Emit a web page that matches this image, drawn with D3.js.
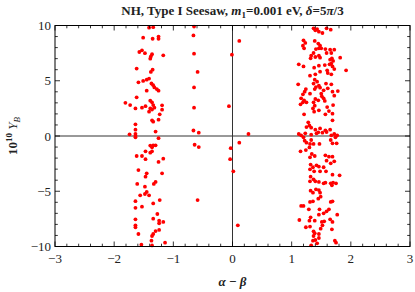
<!DOCTYPE html>
<html><head><meta charset="utf-8">
<script src="https://cdn.jsdelivr.net/npm/d3@7"></script>
<style>
html,body{margin:0;padding:0;background:#fff;}
svg text{font-family:"Liberation Serif","Times New Roman",serif;fill:#222;}
</style></head>
<body><svg id="c" width="415" height="292"></svg>
<script>
// x = alpha - beta, y = 10^10 Y_B
const xTicks = [-3,-2,-1,0,1,2,3];
const yTicks = [-10,-5,0,5,10];
const leftCluster = [
[-1.41,9.8],[-1.34,9.85],[-1.51,8.9],[-1.35,8.8],[-1.25,9.0],[-1.25,8.8],
[-1.575,7.6],[-1.53,7.75],[-1.48,7.5],[-1.36,7.4],[-1.38,7.2],[-1.39,7.0],[-1.17,7.3],
[-1.62,6.1],[-1.35,6.0],[-1.38,5.8],
[-1.59,4.86],[-1.51,4.98],[-1.45,5.1],[-1.41,5.2],[-1.34,4.6],[-1.37,4.75],
[-1.32,4.4],[-1.28,4.25],[-1.25,4.1],[-1.45,4.1],
[-1.62,3.5],[-1.39,3.2],[-1.36,3.05],[-1.81,3.0],[-1.73,2.8],[-1.64,2.5],
[-1.53,2.56],[-1.47,2.7],[-1.39,2.5],[-1.36,2.4],[-1.41,2.2],[-1.34,2.8],[-1.32,2.56],
[-1.19,2.78],[-1.19,2.38],[-1.23,1.96],[-1.25,1.48],[-1.36,1.42],[-1.34,1.3],
[-1.64,1.06],[-1.64,0.57],[-1.74,0.15],[-1.64,0.2],[-1.64,0.03],[-1.30,0.4],[-1.25,-0.2],[-1.64,-0.12],
[-1.39,-0.87],[-1.34,-0.84],[-1.30,-0.84],[-1.36,-1.02],
[-1.47,-1.39],[-1.39,-1.51],[-1.36,-1.39],[-1.62,-1.81],[-1.53,-1.81],[-1.47,-2.1],
[-1.25,-2.35],[-1.17,-2.05],[-1.59,-3.08],[-1.45,-3.38],[-1.47,-3.68],[-1.19,-3.38],
[-1.61,-4.34],[-1.33,-4.34],[-1.30,-4.16],[-1.48,-4.59],
[-1.48,-5.25],[-1.45,-5.07],[-1.56,-5.37],[-1.41,-5.37],[-1.64,-5.9],[-1.64,-6.5],
[-1.53,-6.4],[-1.34,-6.1],[-1.23,-5.8],[-1.27,-7.06],[-1.34,-7.48],[-1.64,-7.54],
[-1.24,-7.67],[-1.17,-7.78],[-1.24,-7.9],[-1.64,-8.08],[-1.64,-8.26],[-1.24,-8.5],
[-1.59,-8.87],[-1.30,-8.6],[-1.34,-8.87],[-1.36,-9.05],[-1.37,-9.47],[-1.14,-9.65],
[-1.54,-9.84],[-1.36,-9.9]
];
const midColumn = [
[-0.65,9.9],[-0.66,9.1],[-0.65,7.45],[-0.59,5.8],[-0.65,4.4],[-0.65,2.56],
[-0.66,0.5],[-0.57,0.3],[-0.64,-0.79],[-0.57,-1.0],[-0.59,-5.8]
];
const centerPoints = [
[-0.01,7.36],[0.115,8.6],[-0.06,2.7],[-0.04,-2.1],[0.115,-0.6],[0.014,-3.2],
[0.09,-8.08],[0.27,0.18],[-0.03,-1.1]
];
const rightCluster = [
[1.37,9.74],[1.40,9.56],[1.46,9.44],[1.52,9.32],[1.59,9.74],[1.66,9.62],[1.43,9.68],
[1.20,8.66],[1.23,8.42],[1.19,8.17],[1.21,7.93],[1.39,8.60],[1.45,8.36],[1.48,8.17],
[1.46,7.93],[1.41,7.87],[1.50,7.93],[1.57,7.87],[1.65,7.81],[1.72,7.81],[1.67,7.51],
[1.59,7.51],[1.37,7.51],[1.33,7.27],[1.32,7.03],[1.40,7.15],[1.46,7.27],[1.48,7.09],
[1.82,7.09],[1.68,7.03],[1.65,6.91],[1.70,6.79],[1.67,6.55],[1.12,6.49],[1.20,6.30],
[1.38,6.18],[1.46,6.36],[1.56,6.42],[1.64,6.49],[1.92,5.94],[1.69,6.30],[1.72,6.06],
[1.60,5.94],[1.61,5.70],[1.67,5.58],[1.31,5.46],[1.40,5.58],[1.48,5.82],[1.39,5.10],
[1.43,4.92],[1.37,4.74],[1.46,4.55],[1.41,4.43],[1.39,4.25],[1.48,4.37],[1.11,4.68],
[1.24,4.25],[1.22,4.01],[1.31,3.83],[1.19,3.77],[1.58,4.74],[1.67,4.68],[1.61,4.31],
[1.54,4.13],[1.69,4.01],[1.78,4.07],[1.72,3.65],[1.16,3.41],[1.21,3.23],[1.25,3.05],
[1.15,2.87],[1.19,3.05],[1.40,3.35],[1.45,3.23],[1.50,3.83],[1.51,3.59],[1.54,3.41],
[1.56,3.17],[1.37,3.05],[1.39,2.74],[1.36,2.50],[1.38,2.20],[1.46,2.32],[1.21,1.96],
[1.60,2.62],[1.70,2.80],[1.63,2.26],[1.69,2.02],[1.57,1.96],[1.28,1.24],[1.30,0.95],
[1.25,0.81],[1.33,0.75],[1.69,1.42],[1.40,0.57],[1.45,0.33],[1.48,0.69],[1.57,0.51],
[1.65,0.57],
[1.12,0.18],[1.16,0.06],[1.20,-0.12],[1.23,0.24],[1.33,0.12],[1.42,0.24],[1.52,0.30],
[1.59,0.36],[1.72,0.18],[1.77,0.06],[1.74,-0.12],[1.67,0.06],[1.22,-0.42],[1.25,-0.60],
[1.31,-0.72],[1.37,-0.72],[1.47,-0.72],[1.30,-1.03],[1.33,-0.36],[1.66,-0.36],[1.69,-0.66],
[1.76,-0.66],[1.15,-1.39],[1.24,-1.27],[1.34,-1.63],[1.39,-1.81],[1.31,-1.93],[1.57,-1.75],
[1.63,-1.87],[1.69,-1.87],[1.59,-2.23],[1.66,-2.47],[1.72,-2.29],[1.32,-2.59],[1.42,-2.65],
[1.46,-2.77],[1.54,-2.83],[1.36,-2.83],[1.31,-3.02],[1.38,-3.20],[1.48,-3.20],[1.58,-3.20],
[1.81,-3.56],[1.69,-3.50],[1.32,-3.68],[1.37,-3.92],[1.31,-4.10],[1.40,-4.10],[1.46,-4.16],
[1.54,-4.28],[1.57,-4.22],[1.66,-4.28],[1.70,-4.22],[1.75,-4.28],[1.68,-4.46],[1.41,-4.83],
[1.36,-5.13],[1.46,-4.89],[1.48,-5.13],[1.49,-5.49],[1.45,-5.67],[1.32,-4.95],[1.31,-5.97],
[1.36,-5.91],[1.16,-6.33],[1.20,-6.33],[1.29,-6.64],[1.47,-6.64],[1.63,-6.64],[1.66,-5.97],
[1.69,-5.91],[1.46,-7.12],[1.54,-7.00],[1.59,-6.82],[1.77,-7.12],[1.32,-7.36],[1.30,-7.66],
[1.39,-7.66],[1.13,-7.60],[1.51,-7.78],[1.55,-7.72],[1.49,-8.39],[1.52,-8.08],[1.65,-7.54],
[1.69,-7.78],[1.24,-8.26],[1.31,-8.20],[1.68,-8.45],[1.37,-8.63],[1.39,-8.81],[1.46,-8.87],
[1.37,-9.05],[1.40,-9.41],[1.36,-9.47],[1.46,-9.23],[1.73,-9.47],[1.75,-9.65],[1.43,-9.71],
[1.33,-9.89]
];

const L=55,R=410,T=25.5,B=246.5;
const x=d3.scaleLinear().domain([-3,3]).range([L,R]);
const y=d3.scaleLinear().domain([-10,10]).range([B,T]);
const svg=d3.select("#c");

// axes through origin
svg.append("line").attr("x1",L).attr("x2",R).attr("y1",y(0)).attr("y2",y(0)).attr("stroke","#333").attr("stroke-width",1);
svg.append("line").attr("x1",x(0)).attr("x2",x(0)).attr("y1",T).attr("y2",B).attr("stroke","#333").attr("stroke-width",1);

// points
const all=[].concat(leftCluster,midColumn,centerPoints,rightCluster);
svg.append("g").selectAll("circle").data(all).join("circle")
  .attr("cx",d=>x(d[0])).attr("cy",d=>y(d[1])).attr("r",1.9).attr("fill","#ff0000");

// frame
svg.append("rect").attr("x",L).attr("y",T).attr("width",R-L).attr("height",B-T)
  .attr("fill","none").attr("stroke","#000").attr("stroke-width",1);

// ticks
const minorX=d3.range(-3,3.0001,0.2).map(v=>+v.toFixed(1));
const minorY=d3.range(-10,10.0001,1);
const tk=svg.append("g").attr("stroke","#000").attr("stroke-width",0.8);
minorX.forEach(v=>{
  const major=Math.abs(v-Math.round(v))<1e-6;
  const len=major?5:2.8;
  tk.append("line").attr("x1",x(v)).attr("x2",x(v)).attr("y1",B).attr("y2",B-len);
  tk.append("line").attr("x1",x(v)).attr("x2",x(v)).attr("y1",T).attr("y2",T+len);
});
minorY.forEach(v=>{
  const major=v%5===0;
  const len=major?5:2.8;
  tk.append("line").attr("y1",y(v)).attr("y2",y(v)).attr("x1",L).attr("x2",L+len);
  tk.append("line").attr("y1",y(v)).attr("y2",y(v)).attr("x1",R).attr("x2",R-len);
});

// tick labels
const fmt=v=>v<0?"\u2212"+Math.abs(v):String(v);
svg.append("g").selectAll("text").data(xTicks).join("text")
  .attr("x",d=>x(d)).attr("y",B+16).attr("text-anchor","middle")
  .attr("font-size",13).text(fmt);
svg.append("g").selectAll("text").data(yTicks).join("text")
  .attr("x",L-4).attr("y",d=>y(d)+4.5).attr("text-anchor","end")
  .attr("font-size",13).text(fmt);

// title
const t=svg.append("text").attr("x",232.5).attr("y",15).attr("text-anchor","middle")
  .attr("font-size",13).attr("font-weight","bold");
t.append("tspan").text("NH, Type I Seesaw, ");
t.append("tspan").attr("font-style","italic").text("m");
t.append("tspan").attr("font-size",9).attr("dy",3).text("1");
t.append("tspan").attr("dy",-3).text("=0.001 eV, ");
t.append("tspan").attr("font-style","italic").text("\u03b4");
t.append("tspan").text("=5");
t.append("tspan").attr("font-style","italic").text("\u03c0");
t.append("tspan").text("/3");

// x label
const xl=svg.append("text").attr("x",232.5).attr("y",286).attr("text-anchor","middle")
  .attr("font-size",13).attr("font-weight","bold");
xl.append("tspan").attr("font-style","italic").text("\u03b1");
xl.append("tspan").text(" \u2212 ");
xl.append("tspan").attr("font-style","italic").text("\u03b2");

// y label
const yl=svg.append("text").attr("transform","translate(17,"+y(0)+") rotate(-90)")
  .attr("text-anchor","middle").attr("font-size",13).attr("font-weight","bold");
yl.append("tspan").text("10");
yl.append("tspan").attr("font-size",9).attr("dy",-5).text("10");
yl.append("tspan").attr("dy",5).text(" ");
yl.append("tspan").attr("font-style","italic").attr("font-weight","normal").text("Y");
yl.append("tspan").attr("font-style","italic").attr("font-weight","normal").attr("font-size",9).attr("dy",3).text("B");
</script></body></html>
